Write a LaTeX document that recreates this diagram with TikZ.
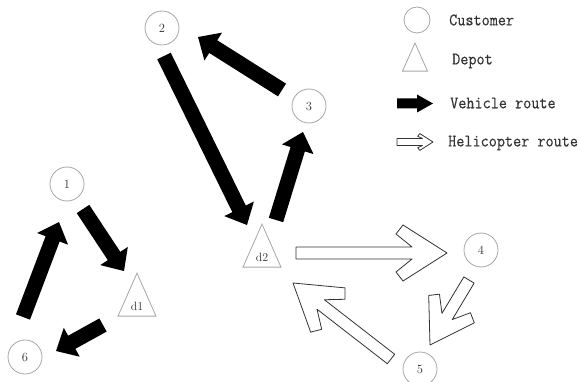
\documentclass[tikz,border=0pt]{standalone}
\usepackage{fontspec}
\newfontfamily\legendfont[FakeStretch=0.9, FakeBold=0.4]{Latin Modern Mono}
\usetikzlibrary{calc,shapes.geometric}

\tikzset{
	customer/.style={circle, draw=black!35, line width=0.8pt, minimum size=34pt, inner sep=0pt, text=black!80, font=\fontsize{12.5}{14}\selectfont},
	depot/.style={isosceles triangle, isosceles triangle stretches, shape border rotate=90, draw=black!35, line width=0.8pt, minimum width=38pt, minimum height=43pt, inner sep=0pt, text=black!80, font=\fontsize{12}{14}\selectfont},
	vehicle/.style={fill=black},
	heli/.style={draw=black!80, fill=white, line width=0.8pt, line join=round},
	legendtext/.style={anchor=west, inner sep=0pt, text=black!80, font=\legendfont\fontsize{17.5}{19}\selectfont},
}

% block arrow: from, to, shaft half width, head half width, head length
\newcommand{\vehicleroute}[5]{%
	\path[vehicle] let \p1=($(#2)-(#1)$), \n1={veclen(\x1,\y1)}, \n2={atan2(\y1,\x1)} in
		($(#1)+({\n2+90}:#3)$) -- ($(#1)+(\n2:{\n1-#5})+({\n2+90}:#3)$)
		-- ($(#1)+(\n2:{\n1-#5})+({\n2+90}:#4)$) -- (#2)
		-- ($(#1)+(\n2:{\n1-#5})+({\n2-90}:#4)$) -- ($(#1)+(\n2:{\n1-#5})+({\n2-90}:#3)$)
		-- ($(#1)+({\n2-90}:#3)$) -- cycle;
}
% open chevron arrow: from, to, shaft half width, head scale
\newcommand{\heliroute}[4]{%
	\path[heli] let \p1=($(#2)-(#1)$), \n1={veclen(\x1,\y1)}, \n2={atan2(\y1,\x1)} in
		($(#1)+({\n2+90}:#3)$) -- ($(#1)+(\n2:{\n1-35pt*#4})+({\n2+90}:#3)$)
		-- ($(#1)+(\n2:{\n1-51pt*#4})+({\n2+90}:{19pt*#4})$)
		-- ($(#1)+(\n2:{\n1-44pt*#4})+({\n2+90}:{28pt*#4})$) -- (#2)
		-- ($(#1)+(\n2:{\n1-44pt*#4})+({\n2-90}:{28pt*#4})$)
		-- ($(#1)+(\n2:{\n1-51pt*#4})+({\n2-90}:{19pt*#4})$)
		-- ($(#1)+(\n2:{\n1-35pt*#4})+({\n2-90}:#3)$)
		-- ($(#1)+({\n2-90}:#3)$) -- cycle;
}

\begin{document}
\begin{tikzpicture}[x=1pt, y=-1pt]
	\useasboundingbox (0,0) rectangle (581,382);
	% customers and depots
	\node [customer] (c1) at (67,184) {1};
	\node [customer] (c2) at (162,28) {2};
	\node [customer] (c3) at (309,106) {3};
	\node [customer] (c4) at (481,250) {4};
	\node [customer] (c5) at (420,369) {5};
	\node [customer] (c6) at (25,357) {6};
	\node [depot] (d1) at (137,306) {d1};
	\node [depot] (d2) at (262,257) {d2};
	% vehicle routes
	\coordinate (r1s) at (83,209);  \coordinate (r1e) at (124,271);
	\coordinate (r2s) at (103,325); \coordinate (r2e) at (56,351);
	\coordinate (r3s) at (23,317);  \coordinate (r3e) at (59,222);
	\coordinate (r4s) at (164,56);  \coordinate (r4e) at (247,225);
	\coordinate (r5s) at (276,220); \coordinate (r5e) at (303,132);
	\coordinate (r6s) at (282,90);  \coordinate (r6e) at (198,37);
	\foreach \r in {1,...,6} {
		\vehicleroute{r\r s}{r\r e}{7.5pt}{16.5pt}{18pt}
	}
	% helicopter routes
	\coordinate (h1s) at (296,253); \coordinate (h1e) at (447,253);
	\coordinate (h2s) at (469,280); \coordinate (h2e) at (430,345);
	\coordinate (h3s) at (391,359); \coordinate (h3e) at (293,283);
	\heliroute{h1s}{h1e}{6pt}{1}
	\heliroute{h2s}{h2e}{6pt}{0.95}
	\heliroute{h3s}{h3e}{6pt}{1}
	% legend
	\node [customer, minimum size=26pt] (lc) at (417,20) {};
	\node [depot, minimum width=25pt, minimum height=28pt] (ld) at (415,63) {};
	\coordinate (lvs) at (397,103.5); \coordinate (lve) at (433,103.5);
	\vehicleroute{lvs}{lve}{5pt}{9pt}{16pt}
	\coordinate (lhs) at (397,142); \coordinate (lhe) at (433,142);
	\heliroute{lhs}{lhe}{3.5pt}{0.3}
	\node [legendtext] (tc) at (449,20) {Customer};
	\node [legendtext] (td) at (452,61) {Depot};
	\node [legendtext] (tv) at (450,103) {Vehicle route};
	\node [legendtext] (th) at (448,143) {Helicopter route};
\end{tikzpicture}
\end{document}
